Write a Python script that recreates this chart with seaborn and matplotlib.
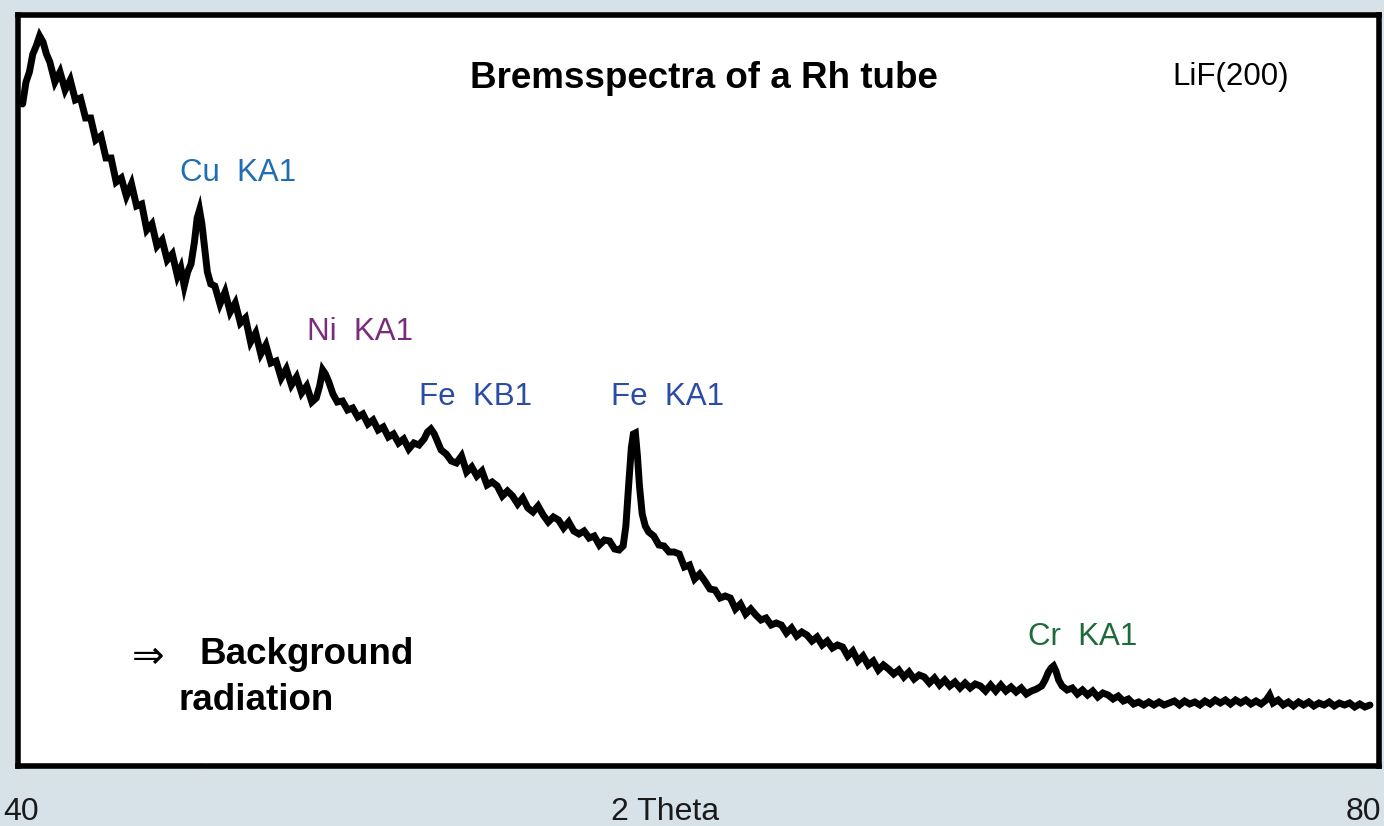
import matplotlib
matplotlib.use("Agg")
import matplotlib.pyplot as plt
import seaborn as sns
import pandas as pd

# ---------------- data ----------------
two_theta = [
    40.15, 40.25, 40.35, 40.45, 40.55, 40.65, 40.75, 40.85, 40.95, 41.10,
    41.25, 41.40, 41.55, 41.70, 41.85, 42.00, 42.15, 42.30, 42.45, 42.60,
    42.75, 42.90, 43.05, 43.20, 43.35, 43.50, 43.65, 43.80, 43.95, 44.10,
    44.25, 44.40, 44.55, 44.70, 44.80, 44.90, 45.00, 45.10, 45.20, 45.28,
    45.35, 45.42, 45.50, 45.58, 45.68, 45.80, 45.95, 46.10, 46.25, 46.40,
    46.55, 46.70, 46.85, 47.00, 47.15, 47.30, 47.45, 47.60, 47.75, 47.90,
    48.05, 48.20, 48.35, 48.50, 48.65, 48.78, 48.88, 48.97, 49.05, 49.15,
    49.27, 49.40, 49.55, 49.70, 49.85, 50.00, 50.15, 50.30, 50.45, 50.60,
    50.75, 50.90, 51.05, 51.20, 51.35, 51.50, 51.65, 51.80, 51.95, 52.05,
    52.15, 52.25, 52.35, 52.45, 52.60, 52.75, 52.90, 53.05, 53.20, 53.35,
    53.50, 53.65, 53.80, 53.95, 54.10, 54.25, 54.40, 54.55, 54.70, 54.85,
    55.00, 55.15, 55.30, 55.45, 55.60, 55.75, 55.90, 56.05, 56.20, 56.35,
    56.50, 56.65, 56.80, 56.95, 57.10, 57.25, 57.40, 57.55, 57.68, 57.80,
    57.88, 57.96, 58.04, 58.10, 58.16, 58.22, 58.28, 58.36, 58.45, 58.55,
    58.70, 58.85, 59.00, 59.15, 59.30, 59.45, 59.60, 59.75, 59.90, 60.05,
    60.20, 60.35, 60.50, 60.65, 60.80, 60.95, 61.10, 61.25, 61.40, 61.55,
    61.70, 61.85, 62.00, 62.15, 62.30, 62.45, 62.60, 62.75, 62.90, 63.05,
    63.20, 63.35, 63.50, 63.65, 63.80, 63.95, 64.10, 64.25, 64.40, 64.55,
    64.70, 64.85, 65.00, 65.15, 65.30, 65.45, 65.60, 65.75, 65.90, 66.05,
    66.20, 66.35, 66.50, 66.65, 66.80, 66.95, 67.10, 67.25, 67.40, 67.55,
    67.70, 67.85, 68.00, 68.15, 68.30, 68.45, 68.60, 68.75, 68.90, 69.05,
    69.20, 69.35, 69.50, 69.65, 69.80, 69.95, 70.10, 70.20, 70.30, 70.38,
    70.45, 70.52, 70.60, 70.70, 70.85, 71.00, 71.15, 71.30, 71.45, 71.60,
    71.75, 71.90, 72.05, 72.20, 72.35, 72.50, 72.65, 72.80, 72.95, 73.10,
    73.25, 73.40, 73.55, 73.70, 73.85, 74.00, 74.15, 74.30, 74.45, 74.60,
    74.75, 74.90, 75.05, 75.20, 75.35, 75.50, 75.65, 75.80, 75.95, 76.10,
    76.25, 76.40, 76.55, 76.70, 76.80, 76.90, 77.05, 77.20, 77.35, 77.50,
    77.65, 77.80, 77.95, 78.10, 78.25, 78.40, 78.55, 78.70, 78.85, 79.00,
    79.15, 79.30, 79.45, 79.60, 79.75,
]

intensity = [
    662, 684, 694, 712, 720, 730, 724, 712, 704, 684,
    694, 676, 686, 666, 668, 648, 648, 626, 630, 608,
    608, 584, 588, 570, 582, 560, 562, 536, 542, 520,
    526, 506, 512, 490, 498, 480, 494, 502, 524, 548,
    556, 542, 518, 494, 482, 480, 462, 474, 454, 463,
    443, 448, 424, 433, 412, 421, 403, 405, 388, 397,
    381, 389, 373, 380, 364, 368, 380, 396, 392, 384,
    372, 364, 365, 356, 358, 349, 352, 342, 346, 336,
    339, 329, 332, 323, 327, 317, 323, 321, 327, 334,
    337, 332, 324, 316, 312, 305, 303, 310, 294, 299,
    290, 295, 281, 284, 280, 270, 275, 270, 262, 268,
    258, 254, 260, 251, 244, 249, 246, 238, 244, 235,
    232, 235, 228, 230, 221, 226, 225, 217, 216, 220,
    240, 280, 318, 332, 333, 310, 280, 252, 240, 234,
    230, 221, 220, 214, 214, 212, 199, 201, 187, 192,
    185, 177, 176, 168, 170, 168, 157, 162, 152, 157,
    151, 146, 148, 141, 143, 141, 133, 138, 130, 134,
    131, 125, 129, 121, 125, 118, 121, 119, 110, 115,
    105, 110, 101, 105, 96, 101, 97, 92, 96, 89,
    94, 87, 91, 89, 83, 88, 81, 86, 80, 84,
    78, 83, 78, 82, 80, 75, 81, 75, 81, 75,
    79, 74, 78, 72, 75, 77, 80, 86, 94, 98,
    100, 95, 86, 80, 76, 78, 72, 76, 71, 75,
    69, 73, 71, 67, 70, 65, 67, 62, 64, 61,
    64, 61, 64, 61, 63, 65, 61, 65, 62, 64,
    61, 65, 62, 66, 63, 66, 62, 66, 63, 66,
    62, 65, 62, 66, 71, 63, 66, 61, 64, 60,
    64, 61, 64, 60, 63, 61, 64, 60, 63, 61,
    63, 59, 62, 59, 61,
]

peak_labels = ["Cu  KA1", "Ni  KA1", "Fe  KB1", "Fe  KA1", "Cr  KA1"]
peak_label_x = [44.78, 48.51, 51.80, 57.44, 69.70]
peak_label_y = [585, 426, 361, 361, 121]
peak_colors = ["#1f6eb4", "#7a2c7c", "#2a4ca6", "#2a4ca6", "#1d6a3a"]

title_text = "Bremsspectra of a Rh tube"
crystal_text = "LiF(200)"
x_labels = ["40", "2 Theta", "80"]

# ---------------- styling ----------------
sns.set_theme(style="white")
plt.rcParams["font.family"] = ["Liberation Sans", "DejaVu Sans"]

BG = "#d7e1e8"
W, H = 1384, 826
fig = plt.figure(figsize=(W / 100, H / 100), dpi=100, facecolor=BG)
ax = fig.add_axes([17.5 / W, 60 / H, 1361 / W, 751.5 / H])
ax.set_facecolor("white")

df = pd.DataFrame({"two_theta": two_theta, "intensity": intensity})
sns.lineplot(data=df, x="two_theta", y="intensity", ax=ax, color="black",
             linewidth=5.0, estimator=None, sort=False,
             solid_joinstyle="miter")

ax.set_xlim(40, 80)
ax.set_ylim(0, 751.5)
ax.set_xlabel("")
ax.set_ylabel("")
ax.set_yticks([])
ax.set_xticks([45.42])
ax.set_xticklabels([])
ax.tick_params(axis="x", direction="inout", length=5, width=1.5, color="#d0d0d0",
               bottom=True)
for s in ax.spines.values():
    s.set_visible(True)
    s.set_color("black")
    s.set_linewidth(4.0)

# texts
ax.text(60.18, 678, title_text, ha="center", va="baseline",
        fontsize=26.5, fontweight="bold", color="black")
ax.text(73.93, 681, crystal_text, ha="left", va="baseline",
        fontsize=22.5, color="black")
for lab, lx, ly, c in zip(peak_labels, peak_label_x, peak_label_y, peak_colors):
    ax.text(lx, ly, lab, ha="left", va="baseline", fontsize=22.5, color=c)

ax.text(43.37, 109, "\u21d2", ha="left", va="center", fontsize=28,
        color="black", family=["DejaVu Sans"])
ax.text(45.36, 102, "Background", ha="left", va="baseline",
        fontsize=26.5, fontweight="bold", color="black")
ax.text(44.72, 56, "radiation", ha="left", va="baseline",
        fontsize=26.5, fontweight="bold", color="black")

# bottom labels
fig.text(3 / W, 1 - 820 / H, x_labels[0], ha="left", va="baseline",
         fontsize=23, color="#1a1a1a")
fig.text(665 / W, 1 - 820 / H, x_labels[1], ha="center", va="baseline",
         fontsize=23, color="#1a1a1a")
fig.text(1381 / W, 1 - 820 / H, x_labels[2], ha="right", va="baseline",
         fontsize=23, color="#1a1a1a")

fig.savefig("out.png", dpi=100, facecolor=BG)
